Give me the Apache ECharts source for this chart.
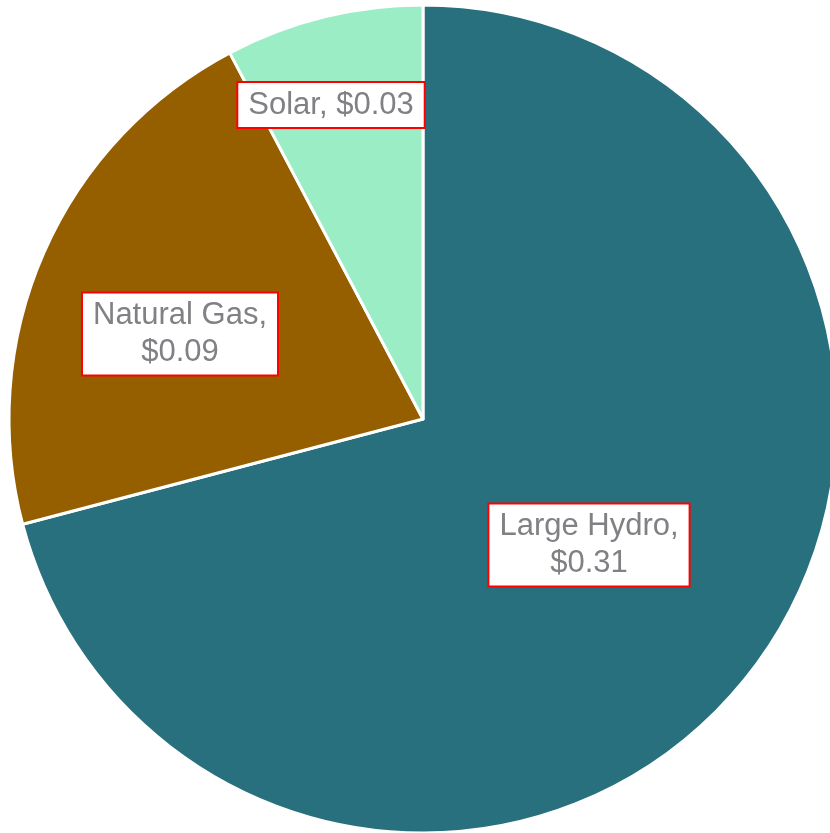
<!DOCTYPE html>
<html>
<head>
<meta charset="utf-8">
<script src="https://cdn.jsdelivr.net/npm/echarts@6/dist/echarts.min.js"></script>
<style>html,body{margin:0;padding:0;background:#fff;}#c{width:830px;height:833px;}</style>
</head>
<body>
<div id="c"></div>
<script>
const categories = ['Large Hydro', 'Natural Gas', 'Solar'];
const values = [0.312, 0.094, 0.034];
const colors = ['#28707d', '#955f00', '#9bedc5'];
const labelText = ['Large Hydro,\n$0.31', 'Natural Gas,\n$0.09', 'Solar, $0.03'];
const labelPos = {'Natural Gas': [180, 334], 'Solar': [331, 105], 'Large Hydro': [589, 545]};

const chart = echarts.init(document.getElementById('c'), null, {renderer: 'canvas'});
chart.setOption({
  animation: false,
  series: [{
    type: 'pie',
    center: [423, 419],
    radius: 414,
    startAngle: 90,
    clockwise: true,
    itemStyle: {borderColor: '#ffffff', borderWidth: 3},
    label: {
      show: true,
      position: 'inside',
      formatter: p => labelText[p.dataIndex],
      fontFamily: 'Liberation Sans, Arial, sans-serif',
      fontSize: 31,
      lineHeight: 37,
      color: '#808085',
      backgroundColor: '#ffffff',
      borderColor: '#ff0000',
      borderWidth: 2,
      padding: [4, 10, 3, 10],
      align: 'center'
    },
    labelLine: {show: false},
    labelLayout: function (params) {
      const name = categories[params.dataIndex];
      if (labelPos[name]) {
        return {x: labelPos[name][0], y: labelPos[name][1], align: 'center', verticalAlign: 'middle'};
      }
      return {};
    },
    emphasis: {disabled: true},
    data: categories.map((c, i) => ({name: c, value: values[i], itemStyle: {color: colors[i]}}))
  }]
});
</script>
</body>
</html>
